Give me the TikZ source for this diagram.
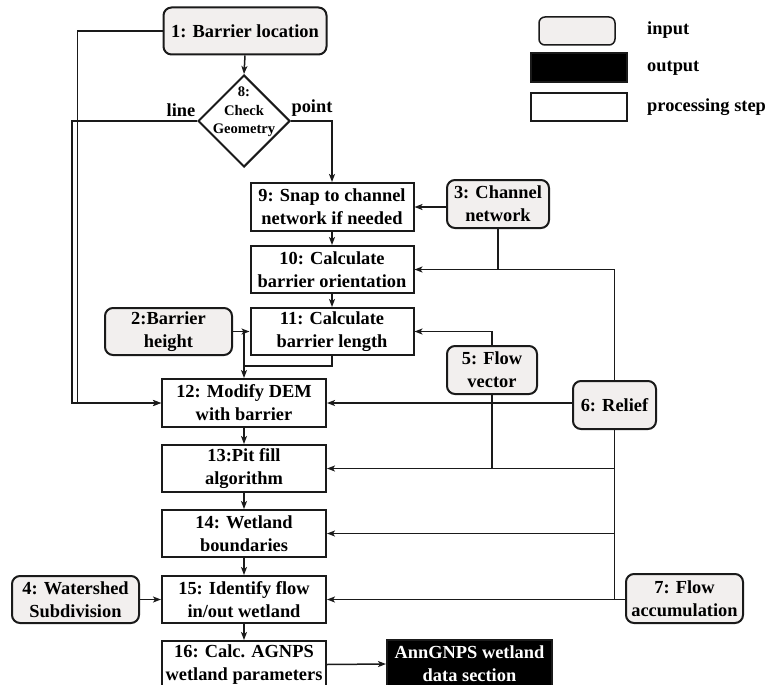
\documentclass[tikz,border=0pt]{standalone}
\usepackage{fontspec}
\setmainfont{Liberation Serif}
\usetikzlibrary{shapes.geometric,arrows.meta,calc}
\definecolor{inputfill}{HTML}{F2EFEE}
\definecolor{linecol}{HTML}{1A1A1A}
\begin{document}
\begin{tikzpicture}[x=1pt,y=-1pt,
  every node/.style={font=\fontsize{18.4}{23}\selectfont\bfseries, align=center, inner sep=0pt},
  base/.style={draw=linecol, line width=2pt, minimum height=47pt},
  inbox/.style={base, rounded corners=8pt, fill=inputfill},
  procbox/.style={base, fill=white},
  outbox/.style={base, fill=black, text=white},
  arr/.style={draw=linecol, line width=1.5pt, -{Stealth[length=8pt,width=6pt,inset=2pt]}},
  ln/.style={draw=linecol, line width=1.5pt},
  lbl/.style={anchor=west}
]
\clip (0,0) rectangle (766,685);
\fill[white] (0,0) rectangle (766,685);

% input nodes
\node[inbox, minimum width=163pt] (n1) at (245,31) {1: Barrier location};
\node[inbox, minimum width=127pt] (n2) at (168.5,331.5) {2:Barrier\\height};
\node[inbox, minimum width=102pt, minimum height=48pt] (n3) at (498,204) {3: Channel\\network};
\node[inbox, minimum width=127pt] (n4) at (75.5,599.5) {4: Watershed\\Subdivision};
\node[inbox, minimum width=90pt, minimum height=48pt] (n5) at (492,370) {5: Flow\\vector};
\node[inbox, minimum width=83pt, minimum height=48pt] (n6) at (614.5,405) {6: Relief};
\node[inbox, minimum width=117pt, minimum height=49pt] (n7) at (684.5,598.5) {7: Flow\\accumulation};

% decision
\node[draw=linecol, line width=2pt, diamond, aspect=1, minimum width=92pt, minimum height=92pt, fill=white] (n8) at (244,121) {};
\node[font=\fontsize{14.6}{18.5}\selectfont\bfseries] (n8t) at (244,112) {8:\\Check\\Geometry};

% processing steps
\node[procbox, minimum width=163pt, minimum height=48pt] (n9) at (332,207) {9: Snap to channel\\network if needed};
\node[procbox, minimum width=163pt] (n10) at (332,269.5) {10: Calculate\\barrier orientation};
\node[procbox, minimum width=163pt] (n11) at (332,331.5) {11: Calculate\\barrier length};
\node[procbox, minimum width=164pt, minimum height=48pt] (n12) at (244,403) {12: Modify DEM\\with barrier};
\node[procbox, minimum width=164pt] (n13) at (244,468.5) {13:Pit fill\\algorithm};
\node[procbox, minimum width=164pt] (n14) at (244,533.5) {14: Wetland\\boundaries};
\node[procbox, minimum width=164pt] (n15) at (244,599.5) {15: Identify flow\\in/out wetland};
\node[procbox, minimum width=164pt] (n16) at (244,664.5) {16: Calc. AGNPS\\wetland parameters};
\node[outbox, minimum width=165pt, minimum height=48pt] (out) at (469.5,664) {AnnGNPS wetland\\data section};

% branch labels
\node (lline) at (181,110) {line};
\node (lpoint) at (312,108) {point};

% legend
\node[draw=linecol, line width=1.5pt, rounded corners=6pt, fill=inputfill, minimum width=76pt, minimum height=28pt] (lin) at (577,31) {};
\node[draw=linecol, line width=1.5pt, fill=black, minimum width=96pt, minimum height=29pt] (lout) at (579,67.5) {};
\node[draw=linecol, line width=1.5pt, fill=white, minimum width=96pt, minimum height=28pt] (lproc) at (579,107) {};
\node[lbl] (tin) at (647,30) {input};
\node[lbl] (tout) at (647,68) {output};
\node[lbl] (tproc) at (647,107) {processing step};

% connectors
\draw[arr] (n1.south) -- (n8.north);
\draw[arr] (n8.west) -- ++(-125,0) |- (n12.west);
\draw[arr] (n1.west) -- ++(-85,0) |- (n12.west);
\draw[arr] (n8.east) -| (n9.north);
\draw[arr] (n9.south) -- (n10.north);
\draw[arr] (n10.south) -- (n11.north);
\draw[arr] (n2.east) -- (n11.west);
\coordinate (j1) at (n12.north |- n2.east);
\coordinate (j2) at ($(n12.north)+(0,-12)$);
\draw[arr] (j1) -- (n12.north);
\draw[ln] (n11.south) |- (j2);
\draw[arr] (n3.west |- n9.east) -- (n9.east);
\draw[ln] (n3.south) -- (n3.south |- n10.east);
\draw[arr] (n6.north) |- (n10.east);
\draw[arr] (n5.north) |- (n11.east);
\draw[arr] (n6.west |- n12.east) -- (n12.east);
\draw[arr] (n5.south) |- (n13.east);
\draw[ln] (n6.south) -- (n6.south |- n15.east);
\draw[ln] (n6.south |- n13.east) -- (n5.south |- n13.east);
\draw[arr] (n6.south |- n14.east) -- (n14.east);
\draw[arr] (n7.west |- n15.east) -- (n15.east);
\draw[arr] (n4.east) -- (n15.west);
\draw[arr] (n12.south) -- (n13.north);
\draw[arr] (n13.south) -- (n14.north);
\draw[arr] (n14.south) -- (n15.north);
\draw[arr] (n15.south) -- (n16.north);
\draw[arr] (n16.east) -- (out.west);
\end{tikzpicture}
\end{document}
